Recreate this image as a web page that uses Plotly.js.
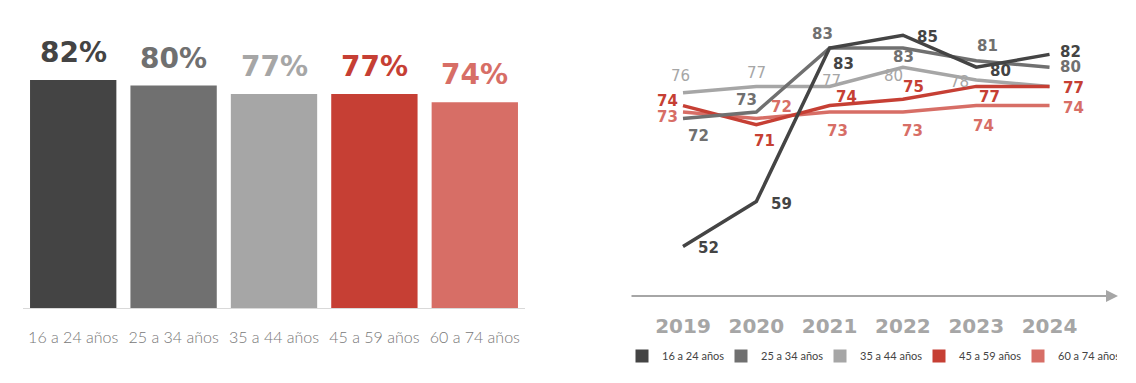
<!DOCTYPE html>
<html><head><meta charset="utf-8">
<script src="https://cdn.plot.ly/plotly-3.0.1.min.js"></script>
<style>html,body{margin:0;padding:0;background:#fff}#chart{width:1136px;height:383px}</style>
</head><body><div id="chart"></div>
<script>
// ---- data ----
const ageGroups = ["16 a 24 años", "25 a 34 años", "35 a 44 años", "45 a 59 años", "60 a 74 años"];
const latestValues = [82, 80, 77, 77, 74];
const years = ["2019", "2020", "2021", "2022", "2023", "2024"];
const s16_24 = [52, 59, 83, 85, 80, 82];
const s25_34 = [72, 73, 83, 83, 81, 80];
const s35_44 = [76, 77, 77, 80, 78, 77];
const s45_59 = [74, 71, 74, 75, 77, 77];
const s60_74 = [73, 72, 73, 73, 74, 74];

// ---- styles ----
const colors = ["#444444", "#707070", "#a6a6a6", "#c63f34", "#d76e66"];
const NUMFONT = "DejaVu Sans, sans-serif";
const TXTFONT = "Lato, sans-serif";
const W = 1136, H = 383;
const px = v => v / W, py = v => (H - v) / H;

// label offsets (pixels) per series
const offs = [
  [[25,-2],[25,-2],[14,-16],[25,-2],[24,-4],[21,2]],
  [[15,-18],[-10,12],[-7,14],[1,-9],[11,15],[21,0]],
  [[-3,17],[0,13],[2,5],[-9,-9],[-17,-2],[24,-2]],
  [[-16,5],[8,-16],[17,9],[11,12],[13,-11],[24,-2]],
  [[-16,-5],[25,11],[8,-19],[10,-19],[7,-20],[24,-2]]
];
const weights = [700, 600, 400, 700, 600];
const series = [s16_24, s25_34, s35_44, s45_59, s60_74];
const drawOrder = [2, 4, 3, 1, 0];

const traces = [];
traces.push({
  type: "bar", x: ageGroups, y: latestValues, xaxis: "x", yaxis: "y",
  marker: {color: colors}, width: 0.86,
  hoverinfo: "skip", showlegend: false
});
const xIdx = years.map((_, i) => i);
drawOrder.forEach(k => {
  traces.push({
    type: "scatter", mode: "lines", x: xIdx, y: series[k], xaxis: "x2", yaxis: "y2",
    line: {color: colors[k], width: 3.5}, showlegend: false, hoverinfo: "skip"
  });
});
ageGroups.forEach((g, k) => {
  traces.push({
    type: "scatter", mode: "markers", x: [null], y: [null], xaxis: "x2", yaxis: "y2",
    name: g, marker: {symbol: "square", size: 13, color: colors[k]}, showlegend: true
  });
});

const annotations = [];
// bar value labels
ageGroups.forEach((g, i) => {
  annotations.push({
    xref: "x", yref: "y", x: g, y: latestValues[i], text: latestValues[i] + "%",
    showarrow: false, yanchor: "bottom", yshift: 9,
    font: {family: NUMFONT, size: 28, color: colors[i], weight: 700}
  });
});
// line value labels
drawOrder.forEach(k => {
  series[k].forEach((v, i) => {
    annotations.push({
      xref: "x2", yref: "y2", x: i, y: v, text: String(v), showarrow: false,
      xshift: offs[k][i][0], yshift: offs[k][i][1],
      font: {family: NUMFONT, size: 15, color: colors[k], weight: weights[k] >= 600 ? 700 : 400}
    });
  });
});
// arrow axis
annotations.push({
  xref: "paper", yref: "paper", x: px(1118), y: py(296), ax: -488, ay: 0,
  axref: "pixel", ayref: "pixel", text: "", showarrow: true,
  arrowhead: 2, arrowsize: 1.2, arrowwidth: 2, arrowcolor: "#a6a6a6"
});

const layout = {
  width: W, height: H, margin: {l: 0, r: 0, t: 0, b: 0, autoexpand: false},
  paper_bgcolor: "#fff", plot_bgcolor: "rgba(0,0,0,0)",
  font: {family: TXTFONT},
  xaxis: {
    domain: [px(23), px(525)], anchor: "y", type: "category", range: [-0.5, 4.5],
    showline: true, linecolor: "#d9d9d9", linewidth: 1, showgrid: false, zeroline: false,
    ticks: "", ticklabelstandoff: 15, tickangle: 0, automargin: false,
    tickfont: {family: TXTFONT, size: 16, color: "#777", weight: 300}
  },
  yaxis: {
    domain: [py(308), py(20)], anchor: "x", range: [0, 103.6],
    visible: false, showgrid: false, zeroline: false, automargin: false
  },
  xaxis2: {
    domain: [px(630), px(1118)], anchor: "y2", range: [-0.723, 5.934],
    tickmode: "array", tickvals: xIdx, ticktext: years, tickangle: 0, automargin: false,
    showline: false, showgrid: false, zeroline: false, ticks: "",
    ticklabelstandoff: 16,
    tickfont: {family: NUMFONT, size: 20, color: "#a6a6a6", weight: 700}
  },
  yaxis2: {
    domain: [py(296), py(20)], anchor: "x2", range: [44.25, 87.375],
    visible: false, showgrid: false, zeroline: false, automargin: false
  },
  showlegend: true,
  legend: {
    orientation: "h", x: px(622), xanchor: "left", y: py(356), yanchor: "middle",
    font: {family: TXTFONT, size: 11, color: "#444"},
    entrywidth: 54, entrywidthmode: "pixels", bgcolor: "rgba(0,0,0,0)"
  },
  annotations: annotations
};
Plotly.newPlot("chart", traces, layout, {displayModeBar: false, staticPlot: true});
</script></body></html>
